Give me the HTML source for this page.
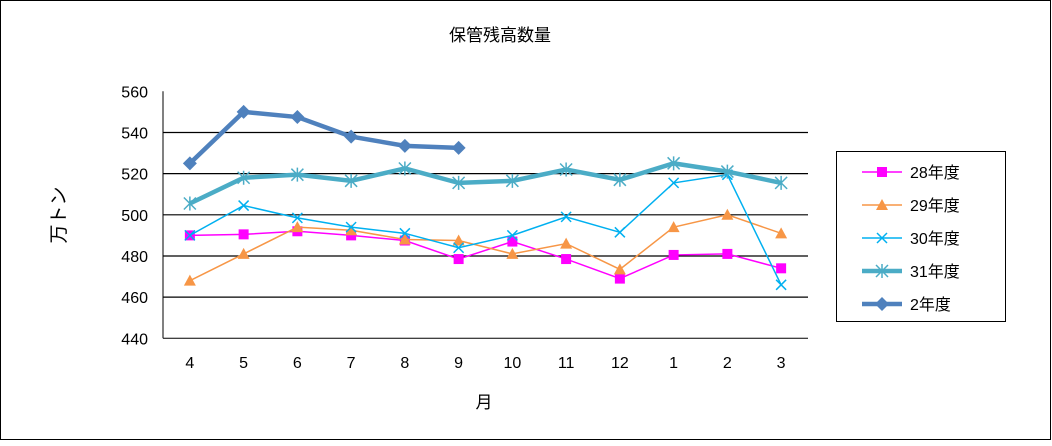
<!DOCTYPE html>
<html><head><meta charset="utf-8"><style>
body{margin:0;background:#fff;}
svg text{font-family:"Liberation Sans","Noto Sans CJK JP",sans-serif;}
</style></head><body>
<svg id="c" width="1052" height="441" xmlns="http://www.w3.org/2000/svg">
<rect x="0.5" y="0.5" width="1050" height="439" fill="#fff" stroke="#000"/>
<text x="500" y="41" font-size="17" text-anchor="middle">保管残高数量</text>
<text x="0" y="0" font-size="19" text-anchor="middle" transform="translate(65,215) rotate(-90)">万トン</text>
<text x="484" y="408" font-size="17" text-anchor="middle">月</text>
<g id="grid"></g><g id="series"></g>
<rect x="836.5" y="151.5" width="169" height="170" fill="#fff" stroke="#000"/>
<g id="legend"></g>
</svg>
<script>
const categories=["4","5","6","7","8","9","10","11","12","1","2","3"];
const yTicks=[440,460,480,500,520,540,560];
const s28=[490,490.5,492,490,487.5,478.5,487,478.5,469,480.5,481,474];
const s29=[468,481,494,492.5,488,487.5,481,486,473.5,494,500,491];
const s30=[490,504.5,498.5,494,491,484,490,499,491.5,515.5,519.5,466];
const s31=[505.5,518,519.5,516.5,522.5,515.5,516.5,522,517,525,521,515.5];
const s2=[525,550,547.5,538,533.5,532.5];
const names=["28年度","29年度","30年度","31年度","2年度"];
const NS="http://www.w3.org/2000/svg";
const L=163,R=808,T=91.3,B=338.3;
const x=i=>L+(R-L)/categories.length*(i+0.5);
const y=v=>B-(v-440)/120*(B-T);
function mk(tag,attrs,parent){const e=document.createElementNS(NS,tag);for(const k in attrs)e.setAttribute(k,attrs[k]);parent.appendChild(e);return e;}
const grid=document.getElementById('grid');
yTicks.forEach(t=>{
 if(t>440&&t<560){const l=mk('line',{x1:L,x2:R,y1:y(t),y2:y(t),stroke:'#000','stroke-width':1.2},grid);
 
 }
 const tx=mk('text',{x:148,y:y(t)+6,'font-size':16,'text-anchor':'end'},grid);tx.textContent=t;
 
 
});
const ax=mk('line',{x1:L,x2:L,y1:T,y2:B,stroke:'#000'},grid);


const bx=mk('line',{x1:L,x2:R,y1:B,y2:B,stroke:'#000'},grid);


categories.forEach((c,i)=>{const tx=mk('text',{x:x(i),y:368,'font-size':16,'text-anchor':'middle'},grid);tx.textContent=c;
 
 });
function marker(type,cx,cy,color,g){
 if(type==='sq')return mk('rect',{x:cx-5,y:cy-5,width:10,height:10,fill:color},g);
 if(type==='tri')return mk('path',{d:`M${cx} ${cy-6}L${cx+6} ${cy+5}L${cx-6} ${cy+5}Z`,fill:color},g);
 if(type==='x')return mk('path',{d:`M${cx-5} ${cy-5}L${cx+5} ${cy+5}M${cx+5} ${cy-5}L${cx-5} ${cy+5}`,stroke:color,'stroke-width':1.5},g);
 if(type==='star')return mk('path',{d:`M${cx-6} ${cy-6}L${cx+6} ${cy+6}M${cx+6} ${cy-6}L${cx-6} ${cy+6}M${cx} ${cy-7}L${cx} ${cy+7}`,stroke:color,'stroke-width':1.5},g);
 return mk('path',{d:`M${cx} ${cy-7}L${cx+7} ${cy}L${cx} ${cy+7}L${cx-7} ${cy}Z`,fill:color},g);
}
const defs=[[s28,'#ff00ff',1.5,'sq'],[s29,'#f79646',1.5,'tri'],[s30,'#00b0f0',1.5,'x'],[s31,'#4bacc6',4.5,'star'],[s2,'#4f81bd',4.5,'dia']];
const sg=document.getElementById('series'),lg=document.getElementById('legend');
defs.forEach((d,k)=>{
 const g=mk('g',{},sg);
 
 
 mk('polyline',{points:d[0].map((v,i)=>x(i)+','+y(v)).join(' '),fill:'none',stroke:d[1],'stroke-width':d[2]},g);
 d[0].forEach((v,i)=>{const m=marker(d[3],x(i),y(v),d[1],g);
  
  });
 const ly=172+k*33;
 const e=mk('g',{},lg);
 
 
 mk('line',{x1:862,x2:902,y1:ly,y2:ly,stroke:d[1],'stroke-width':d[2]},e);
 marker(d[3],882,ly,d[1],e);
 const t=mk('text',{x:910,y:ly+6,'font-size':16},e);t.textContent=names[k];
});
</script>
</body></html>
